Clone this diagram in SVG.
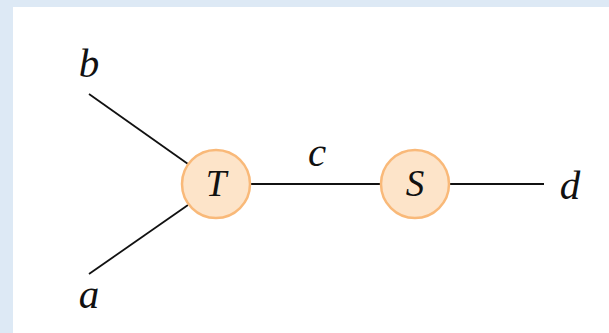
<svg xmlns="http://www.w3.org/2000/svg" width="609" height="333" viewBox="0 0 609 333">
<style>
.lbl{font-family:"Liberation Serif","DejaVu Serif",serif;font-style:italic;fill:#111;}
.out{font-size:41px;}
.in{font-size:37px;text-anchor:middle;}
.node{fill:#fde4c9;stroke:#f9b979;stroke-width:2.5;}
.edge{stroke:#111;stroke-width:1.8;fill:none;}
</style>
<rect x="0" y="0" width="609" height="333" fill="#dde9f5"/>
<rect x="13" y="7" width="596" height="326" fill="#ffffff"/>
<g id="connectors">
<line class="edge" x1="89" y1="94" x2="188" y2="164"/>
<line class="edge" x1="89" y1="274" x2="188" y2="205"/>
<line class="edge" x1="250" y1="184" x2="381" y2="184"/>
<line class="edge" x1="450" y1="184" x2="544" y2="184"/>
</g>
<g id="node-T">
<circle class="node" cx="216" cy="184" r="34"/>
<text class="lbl in" x="216" y="196">T</text>
</g>
<g id="node-S">
<circle class="node" cx="415" cy="184" r="34"/>
<text class="lbl in" x="415" y="196">S</text>
</g>
<g id="label-b"><text class="lbl out" x="89" y="77" text-anchor="middle">b</text></g>
<g id="label-a"><text class="lbl out" x="89" y="308" text-anchor="middle">a</text></g>
<g id="label-c"><text class="lbl out" x="317" y="166" text-anchor="middle">c</text></g>
<g id="label-d"><text class="lbl out" x="570" y="199" text-anchor="middle">d</text></g>
</svg>
